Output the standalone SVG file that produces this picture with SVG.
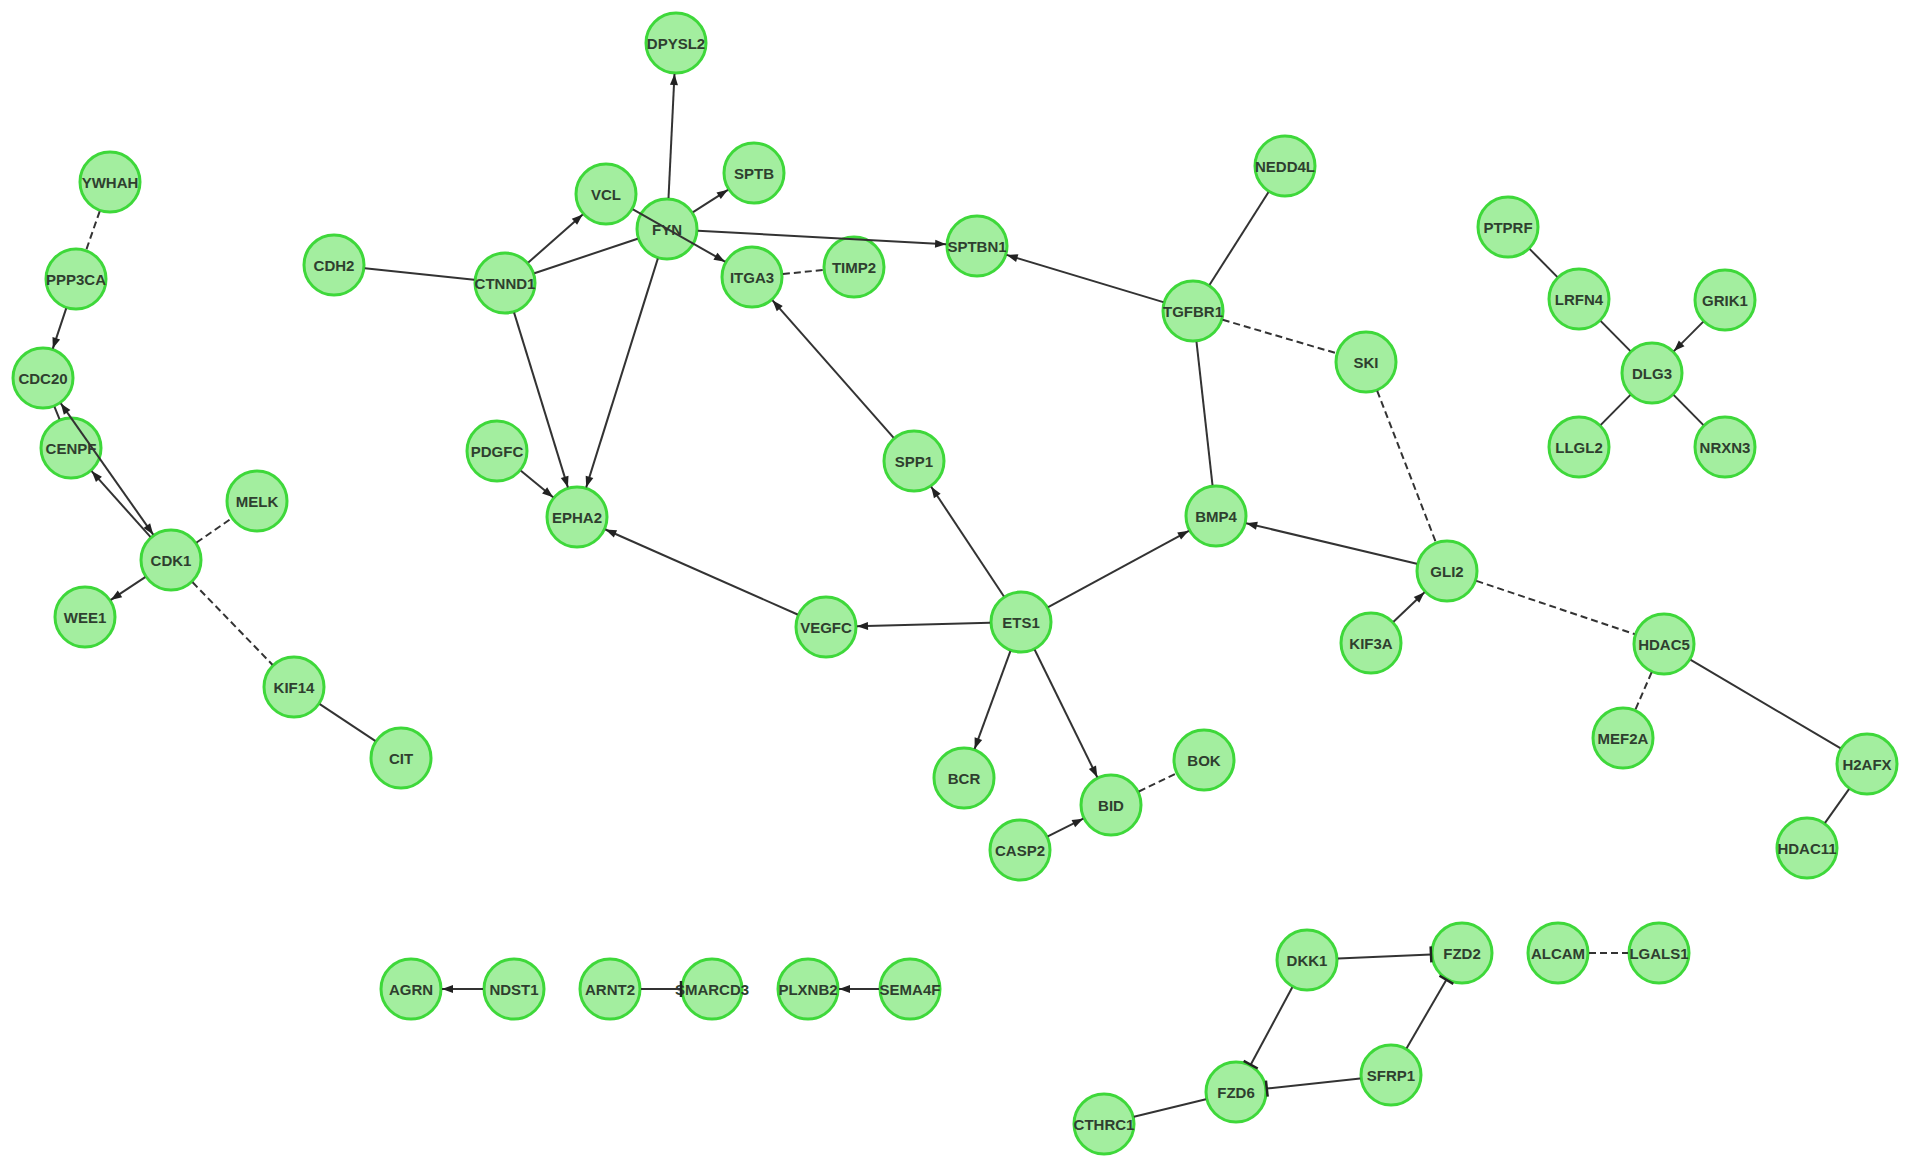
<svg xmlns="http://www.w3.org/2000/svg" width="1913" height="1169" viewBox="0 0 1913 1169">
<style>
.n circle{fill:#a3ee9f;stroke:#3ed83a;stroke-width:3}
.n text{font-family:"Liberation Sans",Arial,sans-serif;font-size:15px;font-weight:bold;fill:#2f3f2f;text-anchor:middle;dominant-baseline:central}
#edges line{stroke:#333;stroke-width:2;fill:none}
#edges line.d{stroke-dasharray:7 4}
#edges line.a{marker-end:url(#arr)}
#edges line.b{marker-start:url(#arr);marker-end:url(#arr)}
#edges line.t{marker-end:url(#tee)}
</style>
<defs>
<marker id="arr" markerUnits="userSpaceOnUse" markerWidth="12" markerHeight="10" refX="11" refY="4" orient="auto-start-reverse" overflow="visible"><path d="M0,0 L11,4 L0,8 Z" fill="#222"/></marker>
<marker id="tee" markerUnits="userSpaceOnUse" markerWidth="4" markerHeight="16" refX="1" refY="8" orient="auto" overflow="visible"><path d="M1,0 L1,16" stroke="#222" stroke-width="2.5"/></marker>
</defs>
<rect width="1913" height="1169" fill="#fff"/>
<g id="nodes">
<g id="YWHAH" class="n"><circle cx="110" cy="182" r="30"/><text x="110" y="182">YWHAH</text></g>
<g id="PPP3CA" class="n"><circle cx="76" cy="279" r="30"/><text x="76" y="279">PPP3CA</text></g>
<g id="CDC20" class="n"><circle cx="43" cy="378" r="30"/><text x="43" y="378">CDC20</text></g>
<g id="CENPF" class="n"><circle cx="71" cy="448" r="30"/><text x="71" y="448">CENPF</text></g>
<g id="MELK" class="n"><circle cx="257" cy="501" r="30"/><text x="257" y="501">MELK</text></g>
<g id="CDK1" class="n"><circle cx="171" cy="560" r="30"/><text x="171" y="560">CDK1</text></g>
<g id="WEE1" class="n"><circle cx="85" cy="617" r="30"/><text x="85" y="617">WEE1</text></g>
<g id="KIF14" class="n"><circle cx="294" cy="687" r="30"/><text x="294" y="687">KIF14</text></g>
<g id="CIT" class="n"><circle cx="401" cy="758" r="30"/><text x="401" y="758">CIT</text></g>
<g id="CDH2" class="n"><circle cx="334" cy="265" r="30"/><text x="334" y="265">CDH2</text></g>
<g id="CTNND1" class="n"><circle cx="505" cy="283" r="30"/><text x="505" y="283">CTNND1</text></g>
<g id="VCL" class="n"><circle cx="606" cy="194" r="30"/><text x="606" y="194">VCL</text></g>
<g id="FYN" class="n"><circle cx="667" cy="229" r="30"/><text x="667" y="229">FYN</text></g>
<g id="DPYSL2" class="n"><circle cx="676" cy="43" r="30"/><text x="676" y="43">DPYSL2</text></g>
<g id="SPTB" class="n"><circle cx="754" cy="173" r="30"/><text x="754" y="173">SPTB</text></g>
<g id="ITGA3" class="n"><circle cx="752" cy="277" r="30"/><text x="752" y="277">ITGA3</text></g>
<g id="TIMP2" class="n"><circle cx="854" cy="267" r="30"/><text x="854" y="267">TIMP2</text></g>
<g id="SPTBN1" class="n"><circle cx="977" cy="246" r="30"/><text x="977" y="246">SPTBN1</text></g>
<g id="PDGFC" class="n"><circle cx="497" cy="451" r="30"/><text x="497" y="451">PDGFC</text></g>
<g id="EPHA2" class="n"><circle cx="577" cy="517" r="30"/><text x="577" y="517">EPHA2</text></g>
<g id="SPP1" class="n"><circle cx="914" cy="461" r="30"/><text x="914" y="461">SPP1</text></g>
<g id="VEGFC" class="n"><circle cx="826" cy="627" r="30"/><text x="826" y="627">VEGFC</text></g>
<g id="ETS1" class="n"><circle cx="1021" cy="622" r="30"/><text x="1021" y="622">ETS1</text></g>
<g id="BCR" class="n"><circle cx="964" cy="778" r="30"/><text x="964" y="778">BCR</text></g>
<g id="BID" class="n"><circle cx="1111" cy="805" r="30"/><text x="1111" y="805">BID</text></g>
<g id="BOK" class="n"><circle cx="1204" cy="760" r="30"/><text x="1204" y="760">BOK</text></g>
<g id="CASP2" class="n"><circle cx="1020" cy="850" r="30"/><text x="1020" y="850">CASP2</text></g>
<g id="BMP4" class="n"><circle cx="1216" cy="516" r="30"/><text x="1216" y="516">BMP4</text></g>
<g id="TGFBR1" class="n"><circle cx="1193" cy="311" r="30"/><text x="1193" y="311">TGFBR1</text></g>
<g id="NEDD4L" class="n"><circle cx="1285" cy="166" r="30"/><text x="1285" y="166">NEDD4L</text></g>
<g id="SKI" class="n"><circle cx="1366" cy="362" r="30"/><text x="1366" y="362">SKI</text></g>
<g id="GLI2" class="n"><circle cx="1447" cy="571" r="30"/><text x="1447" y="571">GLI2</text></g>
<g id="KIF3A" class="n"><circle cx="1371" cy="643" r="30"/><text x="1371" y="643">KIF3A</text></g>
<g id="HDAC5" class="n"><circle cx="1664" cy="644" r="30"/><text x="1664" y="644">HDAC5</text></g>
<g id="MEF2A" class="n"><circle cx="1623" cy="738" r="30"/><text x="1623" y="738">MEF2A</text></g>
<g id="H2AFX" class="n"><circle cx="1867" cy="764" r="30"/><text x="1867" y="764">H2AFX</text></g>
<g id="HDAC11" class="n"><circle cx="1807" cy="848" r="30"/><text x="1807" y="848">HDAC11</text></g>
<g id="PTPRF" class="n"><circle cx="1508" cy="227" r="30"/><text x="1508" y="227">PTPRF</text></g>
<g id="LRFN4" class="n"><circle cx="1579" cy="299" r="30"/><text x="1579" y="299">LRFN4</text></g>
<g id="GRIK1" class="n"><circle cx="1725" cy="300" r="30"/><text x="1725" y="300">GRIK1</text></g>
<g id="DLG3" class="n"><circle cx="1652" cy="373" r="30"/><text x="1652" y="373">DLG3</text></g>
<g id="LLGL2" class="n"><circle cx="1579" cy="447" r="30"/><text x="1579" y="447">LLGL2</text></g>
<g id="NRXN3" class="n"><circle cx="1725" cy="447" r="30"/><text x="1725" y="447">NRXN3</text></g>
<g id="AGRN" class="n"><circle cx="411" cy="989" r="30"/><text x="411" y="989">AGRN</text></g>
<g id="NDST1" class="n"><circle cx="514" cy="989" r="30"/><text x="514" y="989">NDST1</text></g>
<g id="ARNT2" class="n"><circle cx="610" cy="989" r="30"/><text x="610" y="989">ARNT2</text></g>
<g id="SMARCD3" class="n"><circle cx="712" cy="989" r="30"/><text x="712" y="989">SMARCD3</text></g>
<g id="PLXNB2" class="n"><circle cx="808" cy="989" r="30"/><text x="808" y="989">PLXNB2</text></g>
<g id="SEMA4F" class="n"><circle cx="910" cy="989" r="30"/><text x="910" y="989">SEMA4F</text></g>
<g id="DKK1" class="n"><circle cx="1307" cy="960" r="30"/><text x="1307" y="960">DKK1</text></g>
<g id="FZD2" class="n"><circle cx="1462" cy="953" r="30"/><text x="1462" y="953">FZD2</text></g>
<g id="ALCAM" class="n"><circle cx="1558" cy="953" r="30"/><text x="1558" y="953">ALCAM</text></g>
<g id="LGALS1" class="n"><circle cx="1659" cy="953" r="30"/><text x="1659" y="953">LGALS1</text></g>
<g id="SFRP1" class="n"><circle cx="1391" cy="1075" r="30"/><text x="1391" y="1075">SFRP1</text></g>
<g id="FZD6" class="n"><circle cx="1236" cy="1092" r="30"/><text x="1236" y="1092">FZD6</text></g>
<g id="CTHRC1" class="n"><circle cx="1104" cy="1124" r="30"/><text x="1104" y="1124">CTHRC1</text></g>
</g>
<g id="edges">
<line class="d" x1="99.7" y1="211.3" x2="86.3" y2="249.7"/>
<line class="a" x1="66.2" y1="308.4" x2="52.8" y2="348.6"/>
<line class="b" x1="60.8" y1="403.4" x2="153.2" y2="534.6"/>
<line x1="54.5" y1="406.8" x2="59.5" y2="419.2"/>
<line class="a" x1="150.4" y1="536.9" x2="91.6" y2="471.1"/>
<line class="d" x1="196.6" y1="542.5" x2="231.4" y2="518.5"/>
<line class="a" x1="145.2" y1="577.1" x2="110.8" y2="599.9"/>
<line class="d" x1="192.6" y1="582.3" x2="272.4" y2="664.7"/>
<line x1="319.8" y1="704.1" x2="375.2" y2="740.9"/>
<line x1="364.8" y1="268.2" x2="474.2" y2="279.8"/>
<line class="a" x1="528.3" y1="262.5" x2="582.7" y2="214.5"/>
<line x1="534.4" y1="273.2" x2="637.6" y2="238.8"/>
<line class="a" x1="514.1" y1="312.6" x2="567.9" y2="487.4"/>
<line class="a" x1="668.5" y1="198" x2="674.5" y2="74"/>
<line class="a" x1="693.1" y1="212.2" x2="727.9" y2="189.8"/>
<line class="a" x1="697.9" y1="230.7" x2="946.1" y2="244.3"/>
<line class="a" x1="657.8" y1="258.6" x2="586.2" y2="487.4"/>
<line class="a" x1="633" y1="209.3" x2="725" y2="261.7"/>
<line class="d" x1="782.9" y1="274" x2="823.1" y2="270"/>
<line class="a" x1="893.5" y1="437.7" x2="772.5" y2="300.3"/>
<line class="a" x1="520.9" y1="470.7" x2="553.1" y2="497.3"/>
<line class="a" x1="797.6" y1="614.5" x2="605.4" y2="529.5"/>
<line class="a" x1="990" y1="622.8" x2="857" y2="626.2"/>
<line class="a" x1="1003.8" y1="596.2" x2="931.2" y2="486.8"/>
<line class="a" x1="1048.2" y1="607.2" x2="1188.8" y2="530.8"/>
<line class="a" x1="1010.4" y1="651.1" x2="974.6" y2="748.9"/>
<line class="a" x1="1034.7" y1="649.8" x2="1097.3" y2="777.2"/>
<line class="d" x1="1138.9" y1="791.5" x2="1176.1" y2="773.5"/>
<line class="a" x1="1047.8" y1="836.3" x2="1083.2" y2="818.7"/>
<line class="a" x1="1163.3" y1="302.1" x2="1006.7" y2="254.9"/>
<line x1="1209.6" y1="284.8" x2="1268.4" y2="192.2"/>
<line class="d" x1="1222.7" y1="319.8" x2="1336.3" y2="353.2"/>
<line x1="1196.5" y1="341.8" x2="1212.5" y2="485.2"/>
<line class="d" x1="1377.2" y1="390.9" x2="1435.8" y2="542.1"/>
<line class="a" x1="1416.8" y1="563.8" x2="1246.2" y2="523.2"/>
<line class="a" x1="1393.5" y1="621.7" x2="1424.5" y2="592.3"/>
<line class="d" x1="1476.4" y1="580.9" x2="1634.6" y2="634.1"/>
<line class="d" x1="1651.6" y1="672.4" x2="1635.4" y2="709.6"/>
<line x1="1690.7" y1="659.8" x2="1840.3" y2="748.2"/>
<line x1="1849" y1="789.2" x2="1825" y2="822.8"/>
<line x1="1529.8" y1="249.1" x2="1557.2" y2="276.9"/>
<line x1="1600.8" y1="321.1" x2="1630.2" y2="350.9"/>
<line class="a" x1="1703.1" y1="321.9" x2="1673.9" y2="351.1"/>
<line x1="1630.2" y1="395.1" x2="1600.8" y2="424.9"/>
<line x1="1673.8" y1="395.1" x2="1703.2" y2="424.9"/>
<line class="a" x1="483" y1="989" x2="442" y2="989"/>
<line class="t" x1="641" y1="989" x2="681" y2="989"/>
<line class="a" x1="879" y1="989" x2="839" y2="989"/>
<line class="t" x1="1338" y1="958.6" x2="1431" y2="954.4"/>
<line class="t" x1="1292.3" y1="987.3" x2="1250.7" y2="1064.7"/>
<line class="t" x1="1406.6" y1="1048.2" x2="1446.4" y2="979.8"/>
<line class="t" x1="1360.2" y1="1078.4" x2="1266.8" y2="1088.6"/>
<line x1="1205.9" y1="1099.3" x2="1133.9" y2="1116.7"/>
<line class="d" x1="1589" y1="953" x2="1628" y2="953"/>
</g>
</svg>
